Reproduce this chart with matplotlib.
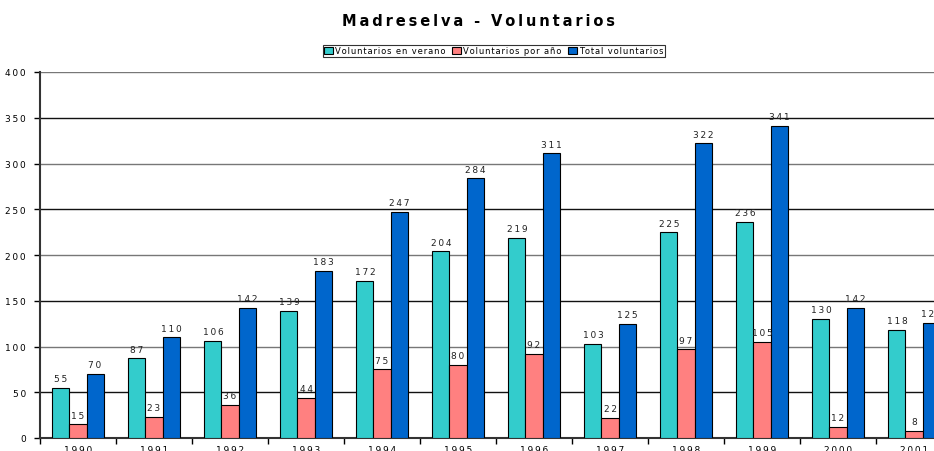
import numpy as np
import matplotlib
matplotlib.use("Agg")
import matplotlib.pyplot as plt

# data
years = ['1990', '1991', '1992', '1993', '1994', '1995', '1996', '1997', '1998', '1999', '2000', '2001']
verano = [55, 87, 106, 139, 172, 204, 219, 103, 225, 236, 130, 118]
por_ano = [15, 23, 36, 44, 75, 80, 92, 22, 97, 105, 12, 8]
total = [70, 110, 142, 183, 247, 284, 311, 125, 322, 341, 142, 126]

series_names = ['Voluntarios en verano', 'Voluntarios por año', 'Total voluntarios']
colors = ['#33CCCC', '#FF8080', '#0066CC']


def spaced(s, sep='\u2009'):
    # Excel-like wide letter spacing
    return sep.join(s)


fig = plt.figure(figsize=(9.34, 4.52), dpi=100)
ax = fig.add_axes([40/934, 13/452, 912/934, 366/452])

x = np.arange(len(years))
w = 0.225
for i, (vals, c) in enumerate(zip([verano, por_ano, total], colors)):
    pos = x + (i - 1) * w
    bars = ax.bar(pos, vals, w, color=c, edgecolor='black', linewidth=0.8,
                  label=spaced(series_names[i], '\u200a'), zorder=3)
    for p, v in zip(pos, vals):
        ax.text(p, v + 5, spaced(str(v)), ha='center', va='bottom',
                fontsize=6.5, color='#222222', zorder=4)

ax.set_xlim(-0.5, len(years) - 0.5)
ax.set_ylim(0, 400)
ax.set_yticks(range(0, 401, 50))
ax.set_yticklabels([spaced(str(v)) for v in range(0, 401, 50)], fontsize=6.5)

# grid lines, alternating shades like the original
for k, v in enumerate(range(50, 401, 50)):
    ax.axhline(v, color='#111111' if k % 2 == 0 else '#777777', linewidth=1.0, zorder=1)

ax.set_xticks(np.arange(-0.5, len(years), 1.0))
ax.set_xticklabels([])
ax.set_xticks(x, minor=True)
ax.set_xticklabels([spaced(y) for y in years], minor=True, fontsize=6.5)
ax.tick_params(axis='x', which='major', length=4, direction='out', width=1)
ax.tick_params(axis='x', which='minor', length=0, pad=5)
ax.tick_params(axis='y', length=4, width=1, pad=6)

for s in ['top', 'right']:
    ax.spines[s].set_visible(False)
ax.spines['left'].set_linewidth(1.5)
ax.spines['bottom'].set_linewidth(1.5)
ax.spines['left'].set_color('#333333')
ax.spines['bottom'].set_color('#333333')

fig.text(478/934, 1 - 22/452, spaced('Madreselva - Voluntarios'), ha='center', va='center',
         fontsize=10.5, fontweight='bold')

leg = fig.legend(loc='center', bbox_to_anchor=(494/934, 1 - 52/452), ncol=3, fontsize=6,
                 frameon=True, fancybox=False, edgecolor='black', handlelength=1.0,
                 handleheight=0.8, handletextpad=0.3, columnspacing=0.8,
                 borderpad=0.2)
leg.get_frame().set_linewidth(0.8)

plt.savefig('out.png', dpi=100)
